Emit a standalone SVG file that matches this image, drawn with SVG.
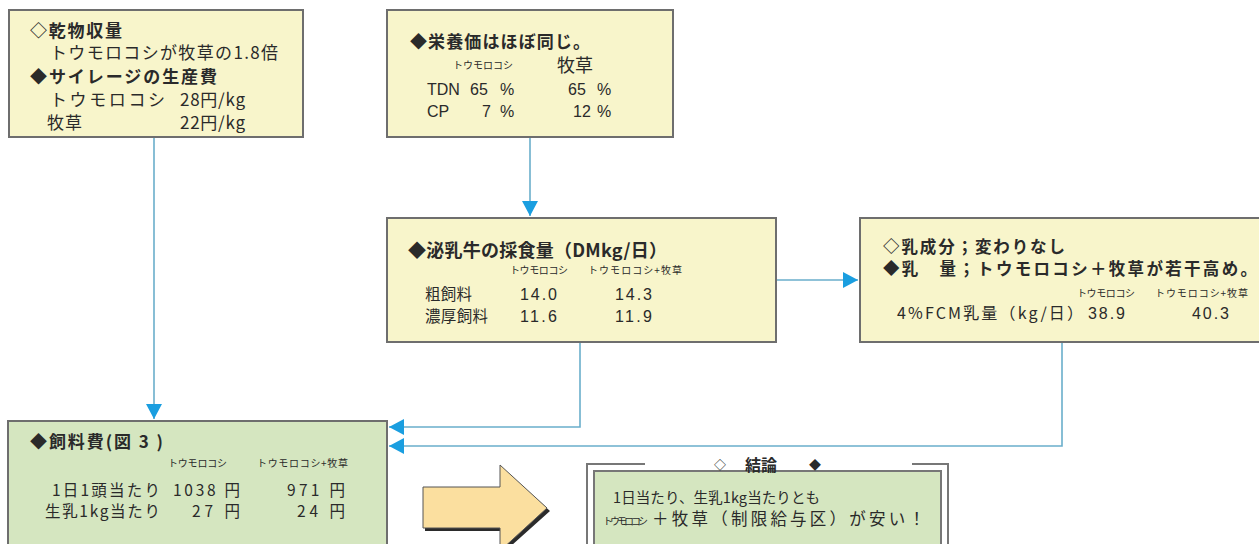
<svg xmlns="http://www.w3.org/2000/svg" width="1259" height="544" viewBox="0 0 1259 544">
<defs>
<style>
.yb{fill:#f8f5cb;stroke:#6e6e6e;stroke-width:2}
.gb{fill:#d5e6c0;stroke:#6e6e6e;stroke-width:2}
.t{font-family:"Noto Sans CJK JP","Noto Sans",sans-serif;font-size:17px;fill:#2a2a2a}
.h{font-weight:bold}
.s{font-size:10px}
.n{font-family:"Liberation Sans",Arial,sans-serif;font-size:16px;fill:#2a2a2a}
.c{fill:none;stroke:#6aaecb;stroke-width:1.6}
</style>
<marker id="ah" markerUnits="userSpaceOnUse" markerWidth="16" markerHeight="16" refX="15" refY="8" orient="auto">
<path d="M0,0 L15,8 L0,16 z" fill="#1a9ee0"/>
</marker>
</defs>
<rect width="1259" height="544" fill="#ffffff"/>

<g id="connectors">
<path class="c" d="M154 138 V419" marker-end="url(#ah)"/>
<path class="c" d="M530 137 V216" marker-end="url(#ah)"/>
<path class="c" d="M776 280 H858" marker-end="url(#ah)"/>
<path class="c" d="M580 342 V427 H389" marker-end="url(#ah)"/>
<path class="c" d="M1062 342 V446 H389" marker-end="url(#ah)"/>
</g>

<g id="node-yield">
<rect class="yb" x="9" y="10" width="294" height="127"/>
<text class="t h" x="30" y="37" textLength="92" lengthAdjust="spacing">◇乾物収量</text>
<text class="t" x="50" y="59" textLength="228" lengthAdjust="spacing">トウモロコシが牧草の1.8倍</text>
<text class="t h" x="30" y="83" textLength="187" lengthAdjust="spacing">◆サイレージの生産費</text>
<text class="t" x="50" y="106" textLength="115" lengthAdjust="spacing">トウモロコシ</text>
<text class="t" x="180" y="106" textLength="65" lengthAdjust="spacing">28円/kg</text>
<text class="t" x="47" y="129" textLength="35" lengthAdjust="spacing">牧草</text>
<text class="t" x="180" y="129" textLength="65" lengthAdjust="spacing">22円/kg</text>
</g>

<g id="node-nutrition">
<rect class="yb" x="387" y="10" width="286" height="127"/>
<text class="t h" x="410" y="48" textLength="180" lengthAdjust="spacing">◆栄養価はほぼ同じ。</text>
<text class="t s" x="453" y="69" textLength="60" lengthAdjust="spacing">トウモロコシ</text>
<text class="t" x="557" y="72" style="font-size:18px" textLength="36" lengthAdjust="spacing">牧草</text>
<text class="n" x="427" y="95">TDN</text>
<text class="n" x="470" y="95">65</text>
<text class="n" x="500" y="95">%</text>
<text class="n" x="568" y="95">65</text>
<text class="n" x="597" y="95">%</text>
<text class="n" x="427" y="117">CP</text>
<text class="n" x="482" y="117">7</text>
<text class="n" x="500" y="117">%</text>
<text class="n" x="573" y="117">12</text>
<text class="n" x="597" y="117">%</text>
</g>

<g id="node-intake">
<rect class="yb" x="387" y="218" width="389" height="124"/>
<text class="t h" x="408" y="257" style="font-size:18px" textLength="259" lengthAdjust="spacing">◆泌乳牛の採食量（DMkg/日）</text>
<text class="t s" x="510" y="274" textLength="58" lengthAdjust="spacing">トウモロコシ</text>
<text class="t s" x="588" y="274" textLength="94" lengthAdjust="spacing">トウモロコシ+牧草</text>
<text class="t" x="425" y="300" style="font-size:15.5px" textLength="47" lengthAdjust="spacing">粗飼料</text>
<text class="n" x="520" y="300" textLength="37" lengthAdjust="spacing">14.0</text>
<text class="n" x="615" y="300" textLength="37" lengthAdjust="spacing">14.3</text>
<text class="t" x="425" y="322" style="font-size:15.5px" textLength="63" lengthAdjust="spacing">濃厚飼料</text>
<text class="n" x="520" y="322" textLength="37" lengthAdjust="spacing">11.6</text>
<text class="n" x="615" y="322" textLength="37" lengthAdjust="spacing">11.9</text>
</g>

<g id="node-milk">
<rect class="yb" x="860" y="218" width="405" height="124"/>
<text class="t h" x="883" y="253" style="font-size:16.5px" textLength="182" lengthAdjust="spacing">◇乳成分；変わりなし</text>
<text class="t h" x="883" y="275" style="font-size:16.5px" textLength="374" lengthAdjust="spacing">◆乳　量；トウモロコシ＋牧草が若干高め。</text>
<text class="t s" x="1077" y="297" textLength="58" lengthAdjust="spacing">トウモロコシ</text>
<text class="t s" x="1155" y="297" textLength="93" lengthAdjust="spacing">トウモロコシ+牧草</text>
<text class="t" x="897" y="319" style="font-size:16px" textLength="186" lengthAdjust="spacing">4%FCM乳量（kg/日）</text>
<text class="n" x="1088" y="319" textLength="37" lengthAdjust="spacing">38.9</text>
<text class="n" x="1192" y="319" textLength="37" lengthAdjust="spacing">40.3</text>
</g>

<g id="node-feedcost">
<rect class="gb" x="8" y="421" width="379" height="128"/>
<text class="t h" x="30" y="448" textLength="133" lengthAdjust="spacing">◆飼料費(図 3 )</text>
<text class="t s" x="168" y="467" textLength="59" lengthAdjust="spacing">トウモロコシ</text>
<text class="t s" x="257" y="467" textLength="91" lengthAdjust="spacing">トウモロコシ+牧草</text>
<text class="t" x="52" y="496" style="font-size:15.5px" textLength="108" lengthAdjust="spacing">1日1頭当たり</text>
<text class="t" x="173" y="496" style="font-size:15.5px" textLength="67" lengthAdjust="spacing">1038 円</text>
<text class="t" x="287" y="496" style="font-size:15.5px" textLength="58" lengthAdjust="spacing">971 円</text>
<text class="t" x="45" y="517" style="font-size:15.5px" textLength="115" lengthAdjust="spacing">生乳1kg当たり</text>
<text class="t" x="192" y="517" style="font-size:15.5px" textLength="48" lengthAdjust="spacing">27 円</text>
<text class="t" x="297" y="517" style="font-size:15.5px" textLength="48" lengthAdjust="spacing">24 円</text>
</g>

<g id="node-bigarrow">
<path d="M425 490 H502 V468 L550 511 L502 554 V531 H425 Z" fill="#2b2b2b"/>
<path d="M423 487 H500 V465 L547 508 L500 551 V528 H423 Z" fill="#fbdf9f" stroke="#555" stroke-width="1"/>
</g>

<g id="node-conclusion">
<path d="M645 464 H587 V548 M912 464 H948 V548" fill="none" stroke="#777" stroke-width="2"/>
<rect x="594" y="471" width="347" height="80" fill="#d5e6c0" stroke="#777" stroke-width="2"/>
<text class="t" x="714" y="470" style="font-size:12px">◇</text>
<text class="t h" x="745" y="471" style="font-size:16px">結論</text>
<text class="t" x="809" y="470" style="font-size:12px">◆</text>
<text class="t" x="613" y="503" style="font-size:14.5px" textLength="207" lengthAdjust="spacing">1日当たり、生乳1kg当たりとも</text>
<text class="t s" x="603" y="525" textLength="45" lengthAdjust="spacing">トウモロコシ</text>
<text class="t" x="652" y="525" style="font-size:16.5px" textLength="273" lengthAdjust="spacing">＋牧草（制限給与区）が安い！</text>
</g>
</svg>
